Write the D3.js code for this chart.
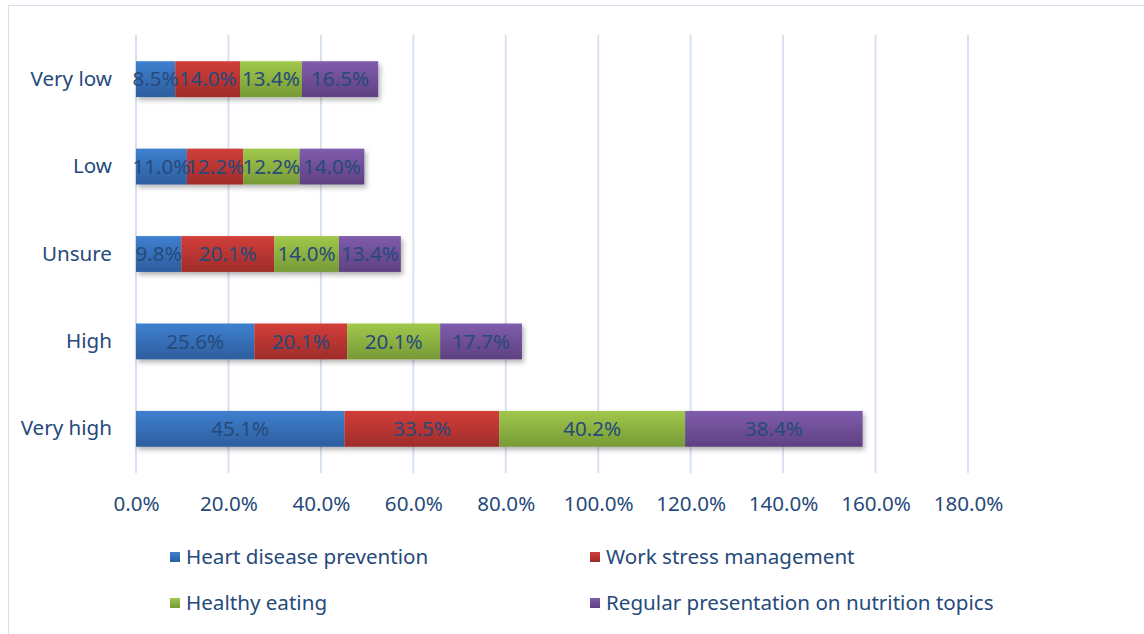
<!DOCTYPE html>
<html>
<head>
<meta charset="utf-8">
<script src="https://cdn.jsdelivr.net/npm/d3@7"></script>
<style>
    body { margin: 0; background: #ffffff; }
    text { font-family: "Noto Sans", "Open Sans", sans-serif; fill: #264a7a; }
</style>
</head>
<body>
<script>
"use strict";

// categories, top to bottom
const categories = ["Very low", "Low", "Unsure", "High", "Very high"];

// series names (legend order)
const seriesNames = [
    "Heart disease prevention",
    "Work stress management",
    "Healthy eating",
    "Regular presentation on nutrition topics"
];

// values per series, in category order (percent)
const heartDisease = [8.5, 11.0, 9.8, 25.6, 45.1];
const workStress = [14.0, 12.2, 20.1, 20.1, 33.5];
const healthyEating = [13.4, 12.2, 14.0, 20.1, 40.2];
const nutritionTalks = [16.5, 14.0, 13.4, 17.7, 38.4];

const xTicks = [0, 20, 40, 60, 80, 100, 120, 140, 160, 180];

(function () {

    const seriesValues = [heartDisease, workStress, healthyEating, nutritionTalks];

    // top / bottom gradient colours per series
    const colors = [
        { top: "#3e80d0", bottom: "#2d5e9e" },
        { top: "#d23e3a", bottom: "#9e2c2a" },
        { top: "#a1c74b", bottom: "#779a37" },
        { top: "#805cad", bottom: "#5e4181" }
    ];

    const fontSize = "20.6px";

    const measurements = {
        width: 1144,
        height: 634,
        plotLeft: 136,
        plotRight: 968,
        plotTop: 35,
        plotBottom: 473
    };

    const svgContainer = d3.select("body").append("svg")
        .attr("width", measurements.width)
        .attr("height", measurements.height);

    const defs = svgContainer.append("defs");

    colors.forEach(function (c, i) {
        const grad = defs.append("linearGradient")
            .attr("id", "grad" + i)
            .attr("x1", 0).attr("y1", 0)
            .attr("x2", 0).attr("y2", 1);
        grad.append("stop").attr("offset", "0%").attr("stop-color", c.top);
        grad.append("stop").attr("offset", "100%").attr("stop-color", c.bottom);
    });

    defs.append("filter")
        .attr("id", "shadow")
        .attr("x", "-5%").attr("y", "-20%")
        .attr("width", "115%").attr("height", "160%")
        .append("feDropShadow")
        .attr("dx", 2).attr("dy", 3)
        .attr("stdDeviation", 2.5)
        .attr("flood-color", "#000")
        .attr("flood-opacity", 0.3);

    // chart border (only top and left visible in the picture)
    svgContainer.append("rect")
        .attr("x", 8.5).attr("y", 5.5)
        .attr("width", 1200).attr("height", 700)
        .attr("fill", "none")
        .attr("stroke", "#d5e0ee")
        .attr("stroke-width", 1);

    const scaleX = d3.scaleLinear()
        .domain([0, 180])
        .range([measurements.plotLeft, measurements.plotRight]);

    const scaleY = d3.scaleBand()
        .domain(categories)
        .range([measurements.plotTop, measurements.plotBottom])
        .paddingInner(0.59)
        .paddingOuter(0.3);

    // gridlines
    svgContainer.append("g")
        .selectAll("line")
        .data(xTicks)
        .enter()
        .append("line")
        .attr("x1", d => scaleX(d))
        .attr("x2", d => scaleX(d))
        .attr("y1", measurements.plotTop)
        .attr("y2", measurements.plotBottom)
        .attr("stroke", "#d7e2f0")
        .attr("stroke-width", 2);

    // x axis tick labels
    const xAxis = d3.axisBottom(scaleX)
        .tickValues(xTicks)
        .tickSize(0)
        .tickPadding(0)
        .tickFormat(d => d.toFixed(1) + "%");

    const xAxisG = svgContainer.append("g")
        .attr("transform", "translate(0," + (measurements.plotBottom + 23) + ")")
        .call(xAxis);
    xAxisG.select(".domain").remove();
    xAxisG.selectAll("text")
        .attr("fill", "#264a7a")
        .style("font-size", fontSize)
        .style("font-family", "\"Noto Sans\", sans-serif");

    // y axis category labels
    const yAxis = d3.axisLeft(scaleY)
        .tickSize(0)
        .tickPadding(24);

    const yAxisG = svgContainer.append("g")
        .attr("transform", "translate(" + measurements.plotLeft + ",0)")
        .call(yAxis);
    yAxisG.select(".domain").remove();
    yAxisG.selectAll("text")
        .attr("fill", "#264a7a")
        .style("font-size", fontSize)
        .style("font-family", "\"Noto Sans\", sans-serif");

    // stack the data
    const rows = categories.map(function (cat, i) {
        const row = { category: cat };
        seriesNames.forEach(function (s, j) { row[s] = seriesValues[j][i]; });
        return row;
    });
    const stacked = d3.stack().keys(seriesNames)(rows);

    // bars, with one shadow filter on the whole group
    const barGroup = svgContainer.append("g").attr("filter", "url(#shadow)");

    stacked.forEach(function (layer, j) {
        barGroup.selectAll(".seg" + j)
            .data(layer)
            .enter()
            .append("rect")
            .attr("class", "seg" + j)
            .attr("x", d => scaleX(d[0]))
            .attr("y", d => scaleY(d.data.category))
            .attr("width", d => scaleX(d[1]) - scaleX(d[0]))
            .attr("height", scaleY.bandwidth())
            .attr("fill", "url(#grad" + j + ")");
    });

    // data labels
    stacked.forEach(function (layer, j) {
        svgContainer.append("g")
            .selectAll("text")
            .data(layer)
            .enter()
            .append("text")
            .attr("x", d => (scaleX(d[0]) + scaleX(d[1])) / 2)
            .attr("y", d => scaleY(d.data.category) + scaleY.bandwidth() / 2)
            .attr("dy", "0.35em")
            .attr("text-anchor", "middle")
            .style("font-size", fontSize)
            .style("fill", "#264a7a")
            .text(d => (d[1] - d[0]).toFixed(1) + "%");
    });

    // legend
    const legendPos = [
        { x: 170, y: 557 },
        { x: 590, y: 557 },
        { x: 170, y: 603 },
        { x: 590, y: 603 }
    ];

    const legend = svgContainer.append("g")
        .selectAll("g")
        .data(seriesNames)
        .enter()
        .append("g")
        .attr("transform", (d, i) => "translate(" + legendPos[i].x + "," + legendPos[i].y + ")");

    legend.append("rect")
        .attr("x", 0).attr("y", -5)
        .attr("width", 10).attr("height", 10)
        .attr("fill", (d, i) => "url(#grad" + i + ")");

    legend.append("text")
        .attr("x", 16)
        .attr("dy", "0.35em")
        .style("font-size", fontSize)
        .text(d => d);

})();
</script>
</body>
</html>
